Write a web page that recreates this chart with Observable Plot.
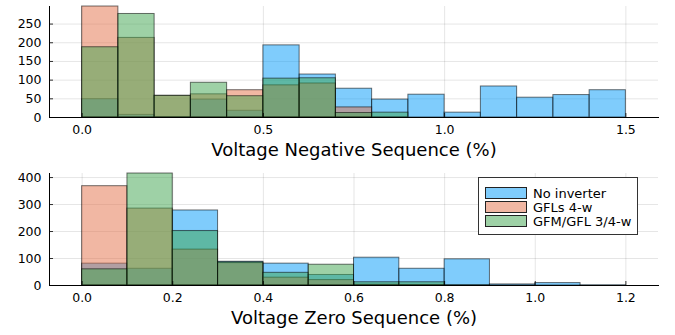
<!DOCTYPE html>
<html>
<head>
<meta charset="utf-8">
<script src="https://cdn.jsdelivr.net/npm/d3@7"></script>
<script src="https://cdn.jsdelivr.net/npm/@observablehq/plot@0.6"></script>
<style>
  body { margin: 0; background: #fff; font-family: "DejaVu Sans", sans-serif; }
  #wrap { position: relative; width: 675px; height: 335px; overflow: hidden; }
  #wrap svg { display: block; }
  .legend { position: absolute; left: 478px; top: 177px; width: 158px; height: 56px;
            border: 1px solid #333; background: #fff; }
  .row { position: absolute; left: 6px; height: 14px; display: flex; align-items: center; }
  .sw { width: 40px; height: 10px; border: 1px solid #222; margin-right: 6px; }
  .lab { font-size: 13px; color: #000; white-space: nowrap; }
</style>
</head>
<body>
<div id="wrap"></div>
<script>
// Series
const seriesNames = ["No inverter", "GFLs 4-w", "GFM/GFL 3/4-w"];
const seriesColors = ["#009AFA", "#E36F47", "#3EA44E"];

// Panel 1: Voltage Negative Sequence (%)
const negEdges = [0.0, 0.1, 0.2, 0.3, 0.4, 0.5, 0.6, 0.7, 0.8, 0.9, 1.0, 1.1, 1.2, 1.3, 1.4, 1.5];
const negNoInverter = [49, 7, 1, 48, 18, 193, 115, 77, 48, 61, 13, 83, 53, 60, 73];
const negGFL = [297, 213, 58, 62, 73, 86, 91, 27, 0, 0, 0, 0, 0, 0, 0];
const negGFM = [188, 277, 58, 93, 57, 104, 105, 12, 13, 0, 0, 0, 0, 0, 0];
const negXTicks = [0.0, 0.5, 1.0, 1.5];
const negYTicks = [0, 50, 100, 150, 200, 250];

// Panel 2: Voltage Zero Sequence (%)
const zeroEdges = [0.0, 0.1, 0.2, 0.3, 0.4, 0.5, 0.6, 0.7, 0.8, 0.9, 1.0, 1.1, 1.2];
const zeroNoInverter = [81, 62, 278, 88, 81, 39, 103, 62, 97, 4, 9, 1];
const zeroGFL = [368, 285, 133, 83, 29, 20, 3, 2, 0, 0, 0, 0];
const zeroGFM = [60, 415, 202, 86, 47, 77, 12, 12, 1, 0, 0, 0];
const zeroXTicks = [0.0, 0.2, 0.4, 0.6, 0.8, 1.0, 1.2];
const zeroYTicks = [0, 100, 200, 300, 400];

function buildTable(edges, seriesList) {
  const rows = [];
  seriesList.forEach((vals, i) => {
    vals.forEach((v, j) => rows.push({x1: edges[j], x2: edges[j + 1], y: v, s: seriesNames[i]}));
  });
  return rows;
}

function panel({edges, seriesList, xTicks, yTicks, title, height, marginBottom}) {
  const data = buildTable(edges, seriesList);
  const xmin = edges[0], xmax = edges[edges.length - 1];
  const pad = (xmax - xmin) * 0.06;
  const ymax = d3.max(seriesList.flat());
  const marginTop = 6, marginLeft = 49, marginRight = 17, width = 675;
  const frameH = height - marginTop - marginBottom;
  const frameW = width - marginLeft - marginRight;
  return Plot.plot({
    width, height, marginTop, marginBottom, marginLeft, marginRight,
    style: {fontFamily: "DejaVu Sans, sans-serif", fontSize: "12.5px", color: "#000", background: "#fff"},
    x: {domain: [xmin - pad, xmax + pad], ticks: xTicks, tickFormat: d3.format(".1f"), grid: true, line: true, tickSize: 0, tickPadding: 8, label: null},
    y: {domain: [0, ymax], ticks: yTicks, grid: true, line: true, tickSize: 0, tickPadding: 8, label: null},
    color: {domain: seriesNames, range: seriesColors},
    marks: [
      Plot.rect(data, {x1: "x1", x2: "x2", y1: 0, y2: "y", fill: "s", fillOpacity: 0.5, stroke: "#000", strokeOpacity: 0.55, strokeWidth: 1}),
      Plot.ruleX(xTicks, {x: d => d, insetTop: frameH - 4, stroke: "#000", strokeOpacity: 0.8}),
      Plot.ruleY(yTicks, {y: d => d, insetRight: frameW - 4, stroke: "#000", strokeOpacity: 0.8}),
      Plot.text([title], {frameAnchor: "bottom", dy: 38, fontSize: 18, fill: "#000"})
    ]
  });
}

const wrap = document.getElementById("wrap");
wrap.append(panel({
  edges: negEdges, seriesList: [negNoInverter, negGFL, negGFM],
  xTicks: negXTicks, yTicks: negYTicks,
  title: "Voltage Negative Sequence (%)", height: 167, marginBottom: 50
}));
wrap.append(panel({
  edges: zeroEdges, seriesList: [zeroNoInverter, zeroGFL, zeroGFM],
  xTicks: zeroXTicks, yTicks: zeroYTicks,
  title: "Voltage Zero Sequence (%)", height: 168, marginBottom: 50
}));

// Legend (bottom panel)
const legend = document.createElement("div");
legend.className = "legend";
seriesNames.forEach((name, i) => {
  const row = document.createElement("div");
  row.className = "row";
  row.style.top = (8 + i * 14) + "px";
  const sw = document.createElement("div");
  sw.className = "sw";
  const c = d3.color(seriesColors[i]); c.opacity = 0.5;
  sw.style.background = c.formatRgb();
  const lab = document.createElement("span");
  lab.className = "lab";
  lab.textContent = name;
  row.append(sw, lab);
  legend.append(row);
});
wrap.append(legend);
</script>
</body>
</html>
